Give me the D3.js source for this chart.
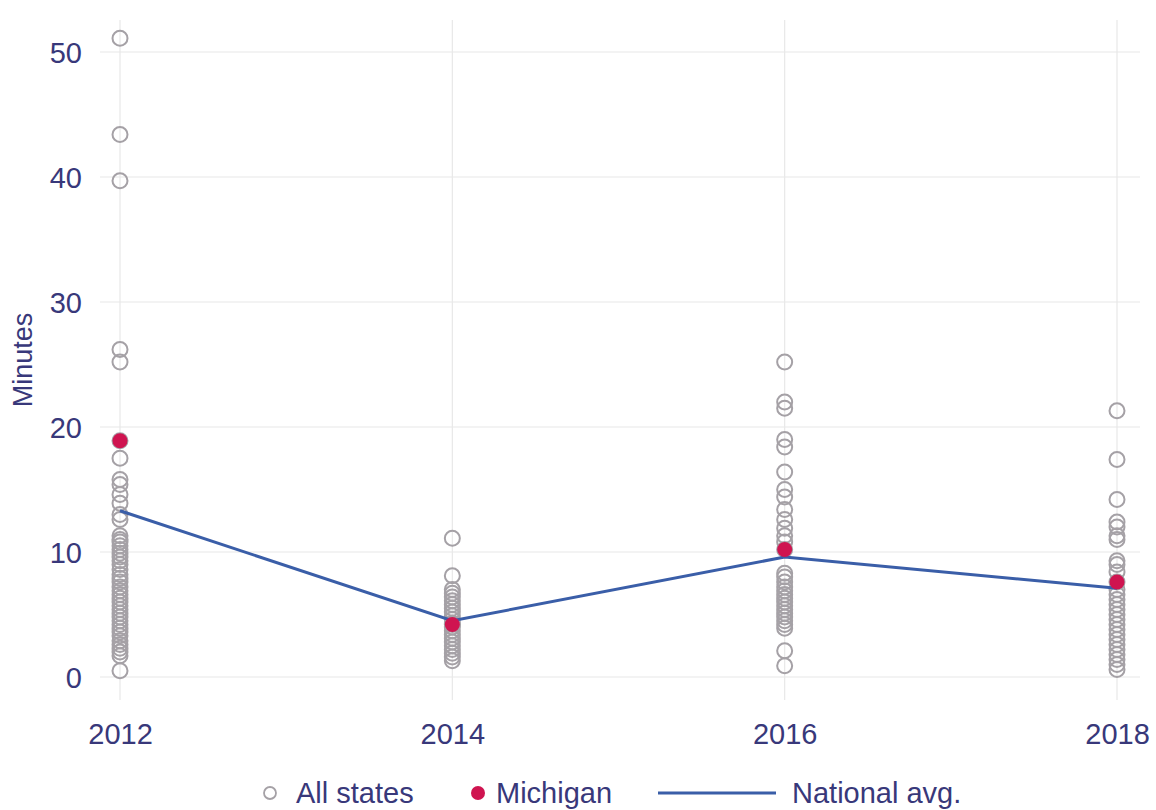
<!DOCTYPE html>
<html><head><meta charset="utf-8">
<script src="https://cdn.jsdelivr.net/npm/d3@7"></script>
<style>
html,body{margin:0;padding:0;background:#fff;}
text{font-family:"Liberation Sans",Arial,sans-serif;}
</style></head>
<body>
<svg id="chart" width="1156" height="810"></svg>
<script>
const years = [2012, 2014, 2016, 2018];
const yTicks = [0, 10, 20, 30, 40, 50];
const allStates2012 = [51.1, 43.4, 39.7, 26.2, 25.2, 17.5, 15.8, 15.4, 14.6, 13.9, 13.0, 12.6, 11.3, 11.0, 10.8, 10.5, 10.2, 9.9, 9.6, 9.3, 9.0, 8.6, 8.2, 7.9, 7.6, 7.2, 6.9, 6.6, 6.3, 6.0, 5.7, 5.4, 5.1, 4.8, 4.5, 4.2, 3.9, 3.6, 3.3, 2.9, 2.6, 2.3, 2.0, 1.7, 0.5, 18.9];
const allStates2014 = [11.1, 8.1, 7.0, 6.7, 6.4, 6.1, 5.8, 5.5, 5.2, 4.9, 4.6, 4.3, 4.0, 3.7, 3.4, 3.1, 2.8, 2.5, 2.2, 1.9, 1.6, 1.3, 4.2];
const allStates2016 = [25.2, 22.0, 21.5, 19.0, 18.4, 16.4, 15.0, 14.4, 13.4, 12.6, 11.9, 11.3, 10.8, 8.3, 8.0, 7.6, 7.2, 6.9, 6.6, 6.3, 6.0, 5.7, 5.4, 5.1, 4.8, 4.5, 4.2, 3.9, 2.1, 0.9, 10.2];
const allStates2018 = [21.3, 17.4, 14.2, 12.4, 12.0, 11.3, 11.0, 9.3, 9.0, 8.4, 7.0, 6.6, 6.2, 5.8, 5.4, 5.0, 4.6, 4.2, 3.8, 3.4, 3.0, 2.6, 2.2, 1.8, 1.4, 1.0, 0.6, 7.6];
const michigan = [18.9, 4.2, 10.2, 7.6];
const nationalAvg = [13.3, 4.5, 9.6, 7.1];
const legendLabels = ["All states", "Michigan", "National avg."];

const svg = d3.select("#chart");
const x = d3.scaleLinear().domain([2012, 2018]).range([120, 1117]);
const y = d3.scaleLinear().domain([0, 50]).range([677, 52]);
const textColor = "#38387a";

// gridlines
const g = svg.append("g");
g.selectAll("line.h").data(yTicks).join("line")
  .attr("x1", 100).attr("x2", 1140)
  .attr("y1", d => y(d)).attr("y2", d => y(d))
  .attr("stroke", "#e8e8e8").attr("stroke-width", 1.2);
g.selectAll("line.v").data(years).join("line")
  .attr("x1", d => x(d)).attr("x2", d => x(d))
  .attr("y1", 20).attr("y2", 700)
  .attr("stroke", "#e8e8e8").attr("stroke-width", 1.2);

// axes
const yAxis = d3.axisLeft(y).tickValues(yTicks).tickSize(0).tickPadding(0);
const ya = svg.append("g").attr("transform", "translate(82,0)").call(yAxis);
ya.select(".domain").remove();
ya.selectAll("text").attr("font-size", 29).attr("fill", textColor).attr("dy", "0.35em");

const xAxis = d3.axisBottom(x).tickValues(years).tickFormat(d3.format("d")).tickSize(0).tickPadding(0);
const xa = svg.append("g").attr("transform", "translate(0,723)").call(xAxis);
xa.select(".domain").remove();
xa.selectAll("text").attr("font-size", 29).attr("fill", textColor).attr("dy", "0.71em");

svg.append("text").attr("transform", "translate(32,360) rotate(-90)")
  .attr("text-anchor", "middle").attr("font-size", 27).attr("fill", textColor).text("Minutes");

// all states circles
const allData = [];
[allStates2012, allStates2014, allStates2016, allStates2018].forEach((arr, i) => {
  arr.forEach(v => allData.push({year: years[i], v}));
});
svg.append("g").selectAll("circle").data(allData).join("circle")
  .attr("cx", d => x(d.year)).attr("cy", d => y(d.v)).attr("r", 7.5)
  .attr("fill", "none").attr("stroke", "#a5a1a6").attr("stroke-width", 2);

// national avg line
const line = d3.line().x((d, i) => x(years[i])).y(d => y(d));
svg.append("path").datum(nationalAvg).attr("d", line)
  .attr("fill", "none").attr("stroke", "#3a5ea8").attr("stroke-width", 3);

// michigan
svg.append("g").selectAll("circle").data(michigan).join("circle")
  .attr("cx", (d, i) => x(years[i])).attr("cy", d => y(d)).attr("r", 7.5)
  .attr("fill", "#cf1450");

// legend
const lg = svg.append("g");
const ly = 793;
lg.append("circle").attr("cx", 270).attr("cy", ly).attr("r", 6)
  .attr("fill", "none").attr("stroke", "#a5a1a6").attr("stroke-width", 1.8);
lg.append("text").attr("x", 296).attr("y", ly).attr("dy", "0.35em")
  .attr("font-size", 29).attr("fill", textColor).text(legendLabels[0]);
lg.append("circle").attr("cx", 478).attr("cy", ly).attr("r", 7)
  .attr("fill", "#cf1450");
lg.append("text").attr("x", 496).attr("y", ly).attr("dy", "0.35em")
  .attr("font-size", 29).attr("fill", textColor).text(legendLabels[1]);
lg.append("line").attr("x1", 658).attr("x2", 776).attr("y1", ly).attr("y2", ly)
  .attr("stroke", "#3a5ea8").attr("stroke-width", 3);
lg.append("text").attr("x", 792).attr("y", ly).attr("dy", "0.35em")
  .attr("font-size", 29).attr("fill", textColor).text(legendLabels[2]);
</script>
</body></html>
